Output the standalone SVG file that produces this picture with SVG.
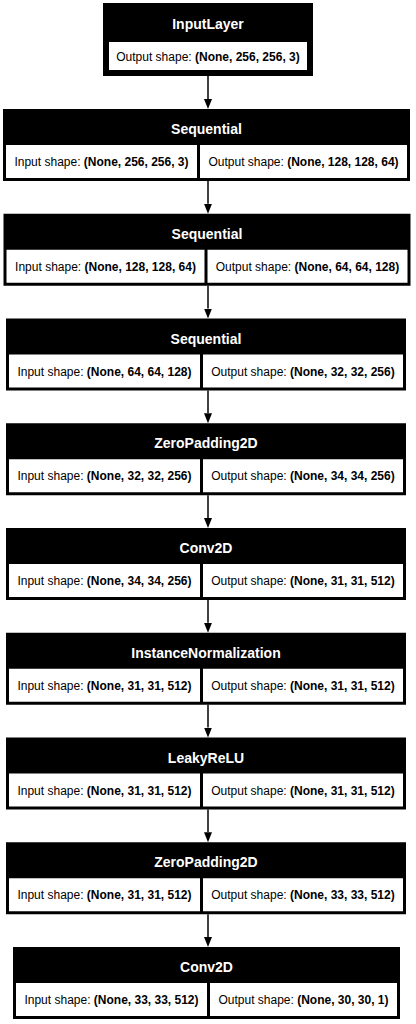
<svg xmlns="http://www.w3.org/2000/svg" width="416" height="1024" viewBox="0 0 416 1024">
<style>
.bg{fill:#000}
.cell{fill:#fff}
.title{font-family:"Liberation Sans",Arial,Helvetica,sans-serif;font-size:14px;font-weight:bold;fill:#fff;text-anchor:middle}
.txt{font-family:"Liberation Sans",Arial,Helvetica,sans-serif;font-size:12px;fill:#000;text-anchor:middle}
.b{font-weight:bold}
.edge{stroke:#000;stroke-width:1.5;fill:none}
</style>
<defs>
<marker id="ah" viewBox="0 0 10 8" refX="0" refY="4" markerWidth="10" markerHeight="8" orient="auto" markerUnits="userSpaceOnUse">
<path d="M0,0 L10,4 L0,8 z" fill="#000"/>
</marker>
</defs>
<rect width="416" height="1024" fill="#fff"/>
<g id="connectors">
<path class="edge" d="M208,76 V99" marker-end="url(#ah)"/>
<path class="edge" d="M208,181 V203.75" marker-end="url(#ah)"/>
<path class="edge" d="M208,285.75 V308.5" marker-end="url(#ah)"/>
<path class="edge" d="M208,390.5 V413.25" marker-end="url(#ah)"/>
<path class="edge" d="M208,495.25 V518" marker-end="url(#ah)"/>
<path class="edge" d="M208,600 V622.75" marker-end="url(#ah)"/>
<path class="edge" d="M208,704.75 V727.5" marker-end="url(#ah)"/>
<path class="edge" d="M208,809.5 V832.25" marker-end="url(#ah)"/>
<path class="edge" d="M208,914.25 V937" marker-end="url(#ah)"/>
</g>
<g id="node-inputlayer">
<rect class="bg" x="103" y="3" width="210" height="73"/>
<text class="title" x="208" y="29">InputLayer</text>
<rect class="cell" x="109" y="42" width="198" height="28"/>
<text class="txt" x="208" y="61">Output shape: <tspan class="b">(None, 256, 256, 3)</tspan></text>
</g>
<g id="node-sequential-1" transform="translate(0,109)">
<rect class="bg" x="3" y="0" width="407" height="72"/>
<text class="title" x="206.5" y="25">Sequential</text>
<rect class="cell" x="6" y="36" width="191" height="33"/>
<rect class="cell" x="200" y="36" width="207" height="33"/>
<text class="txt" x="101.5" y="57">Input shape: <tspan class="b">(None, 256, 256, 3)</tspan></text>
<text class="txt" x="303.5" y="57">Output shape: <tspan class="b">(None, 128, 128, 64)</tspan></text>
</g>
<g id="node-sequential-2" transform="translate(0,213.75)">
<rect class="bg" x="3.5" y="0" width="407" height="72"/>
<text class="title" x="207" y="25">Sequential</text>
<rect class="cell" x="6.5" y="36" width="198" height="33"/>
<rect class="cell" x="207.5" y="36" width="200" height="33"/>
<text class="txt" x="105.5" y="57">Input shape: <tspan class="b">(None, 128, 128, 64)</tspan></text>
<text class="txt" x="307.5" y="57">Output shape: <tspan class="b">(None, 64, 64, 128)</tspan></text>
</g>
<g id="node-sequential-3" transform="translate(0,318.5)">
<rect class="bg" x="6" y="0" width="400" height="72"/>
<text class="title" x="206" y="25">Sequential</text>
<rect class="cell" x="9" y="36" width="191" height="33"/>
<rect class="cell" x="203" y="36" width="200" height="33"/>
<text class="txt" x="104.5" y="57">Input shape: <tspan class="b">(None, 64, 64, 128)</tspan></text>
<text class="txt" x="303" y="57">Output shape: <tspan class="b">(None, 32, 32, 256)</tspan></text>
</g>
<g id="node-zeropadding2d-1" transform="translate(0,423.25)">
<rect class="bg" x="6" y="0" width="400" height="72"/>
<text class="title" x="206" y="25">ZeroPadding2D</text>
<rect class="cell" x="9" y="36" width="191" height="33"/>
<rect class="cell" x="203" y="36" width="200" height="33"/>
<text class="txt" x="104.5" y="57">Input shape: <tspan class="b">(None, 32, 32, 256)</tspan></text>
<text class="txt" x="303" y="57">Output shape: <tspan class="b">(None, 34, 34, 256)</tspan></text>
</g>
<g id="node-conv2d-1" transform="translate(0,528)">
<rect class="bg" x="6" y="0" width="400" height="72"/>
<text class="title" x="206" y="25">Conv2D</text>
<rect class="cell" x="9" y="36" width="191" height="33"/>
<rect class="cell" x="203" y="36" width="200" height="33"/>
<text class="txt" x="104.5" y="57">Input shape: <tspan class="b">(None, 34, 34, 256)</tspan></text>
<text class="txt" x="303" y="57">Output shape: <tspan class="b">(None, 31, 31, 512)</tspan></text>
</g>
<g id="node-instancenormalization" transform="translate(0,632.75)">
<rect class="bg" x="6" y="0" width="400" height="72"/>
<text class="title" x="206" y="25">InstanceNormalization</text>
<rect class="cell" x="9" y="36" width="191" height="33"/>
<rect class="cell" x="203" y="36" width="200" height="33"/>
<text class="txt" x="104.5" y="57">Input shape: <tspan class="b">(None, 31, 31, 512)</tspan></text>
<text class="txt" x="303" y="57">Output shape: <tspan class="b">(None, 31, 31, 512)</tspan></text>
</g>
<g id="node-leakyrelu" transform="translate(0,737.5)">
<rect class="bg" x="6" y="0" width="400" height="72"/>
<text class="title" x="206" y="25">LeakyReLU</text>
<rect class="cell" x="9" y="36" width="191" height="33"/>
<rect class="cell" x="203" y="36" width="200" height="33"/>
<text class="txt" x="104.5" y="57">Input shape: <tspan class="b">(None, 31, 31, 512)</tspan></text>
<text class="txt" x="303" y="57">Output shape: <tspan class="b">(None, 31, 31, 512)</tspan></text>
</g>
<g id="node-zeropadding2d-2" transform="translate(0,842.25)">
<rect class="bg" x="6" y="0" width="400" height="72"/>
<text class="title" x="206" y="25">ZeroPadding2D</text>
<rect class="cell" x="9" y="36" width="191" height="33"/>
<rect class="cell" x="203" y="36" width="200" height="33"/>
<text class="txt" x="104.5" y="57">Input shape: <tspan class="b">(None, 31, 31, 512)</tspan></text>
<text class="txt" x="303" y="57">Output shape: <tspan class="b">(None, 33, 33, 512)</tspan></text>
</g>
<g id="node-conv2d-2" transform="translate(0,947)">
<rect class="bg" x="13" y="0" width="387" height="72"/>
<text class="title" x="206.5" y="25">Conv2D</text>
<rect class="cell" x="16" y="36" width="191" height="33"/>
<rect class="cell" x="210" y="36" width="187" height="33"/>
<text class="txt" x="111.5" y="57">Input shape: <tspan class="b">(None, 33, 33, 512)</tspan></text>
<text class="txt" x="303.5" y="57">Output shape: <tspan class="b">(None, 30, 30, 1)</tspan></text>
</g>
</svg>
